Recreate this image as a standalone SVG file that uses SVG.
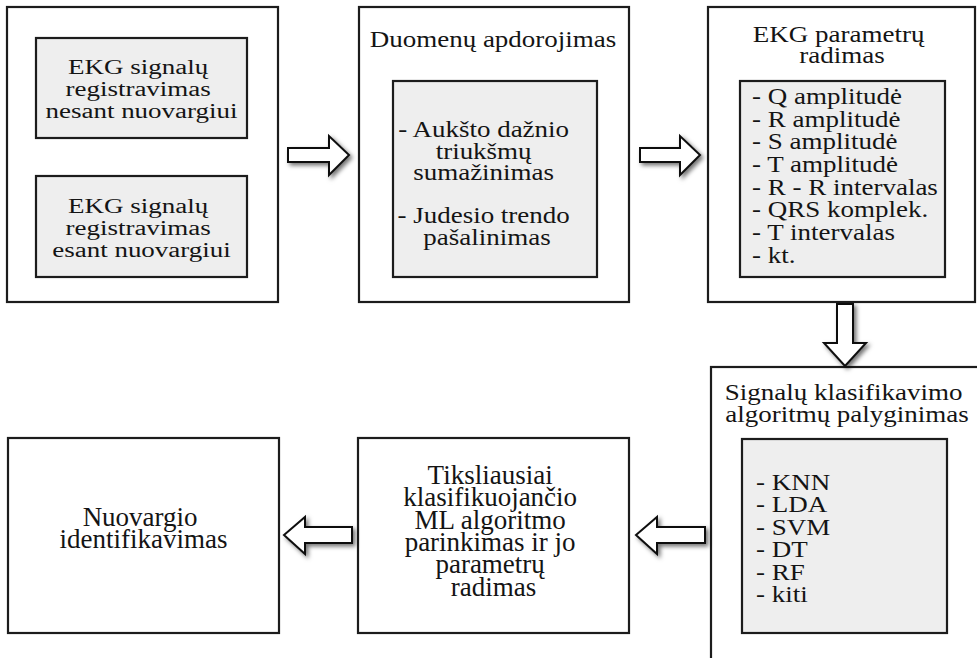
<svg xmlns="http://www.w3.org/2000/svg" width="977" height="658" viewBox="0 0 977 658">
  <defs>
    <filter id="shadow" x="-30%" y="-30%" width="170%" height="170%">
      <feDropShadow dx="2.5" dy="2.5" stdDeviation="2" flood-color="#000" flood-opacity="0.55"/>
    </filter>
    <style>
      .outer { fill: #ffffff; stroke: #1c1c1c; stroke-width: 2.2; }
      .inner { fill: #eeeeee; stroke: #1c1c1c; stroke-width: 2.2; }
      .arrow { fill: #ffffff; stroke: #111111; stroke-width: 2; stroke-linejoin: miter; filter: url(#shadow); }
      text { font-family: "Liberation Serif", "Times New Roman", serif; font-size: 27px; fill: #141414; }
      .c { text-anchor: middle; }
      .l { text-anchor: start; }
    </style>
  </defs>
  <rect width="977" height="658" fill="#ffffff"/>

  <!-- Step 1: ECG recording -->
  <g id="recording">
    <rect class="outer" x="7" y="7" width="271" height="295"/>
    <rect class="inner" x="36" y="38" width="211" height="100"/>
    <text class="c" transform="translate(141.5,74) scale(1,0.8)">
      <tspan x="0" y="0">EKG signalų</tspan>
      <tspan x="0" y="27.5">registravimas</tspan>
      <tspan x="0" y="55">nesant nuovargiui</tspan>
    </text>
    <rect class="inner" x="36" y="176" width="211" height="101"/>
    <text class="c" transform="translate(141.5,213) scale(1,0.8)">
      <tspan x="0" y="0">EKG signalų</tspan>
      <tspan x="0" y="27.5">registravimas</tspan>
      <tspan x="0" y="55">esant nuovargiui</tspan>
    </text>
  </g>

  <!-- Step 2: data processing -->
  <g id="processing">
    <rect class="outer" x="359" y="7" width="270" height="295"/>
    <text class="c" transform="translate(493,47) scale(1,0.84)">Duomenų apdorojimas</text>
    <rect class="inner" x="393" y="81" width="204" height="196"/>
    <text class="c" transform="translate(487,137) scale(1,0.84)">
      <tspan x="0" y="0">- Aukšto dažnio</tspan>
      <tspan x="0" y="26.2">triukšmų</tspan>
      <tspan x="0" y="51.2">sumažinimas</tspan>
      <tspan x="0" y="102.4">- Judesio trendo</tspan>
      <tspan x="0" y="128.6">pašalinimas</tspan>
    </text>
  </g>

  <!-- Step 3: ECG parameter extraction -->
  <g id="parameters">
    <rect class="outer" x="708" y="7" width="267" height="295"/>
    <text class="c" transform="translate(842,42) scale(1,0.84)">
      <tspan x="0" y="0">EKG parametrų</tspan>
      <tspan x="0" y="25">radimas</tspan>
    </text>
    <rect class="inner" x="740" y="81" width="205" height="196"/>
    <text class="l" transform="translate(752,104) scale(1,0.84)">
      <tspan x="0" y="0">- Q amplitudė</tspan>
      <tspan x="0" y="27">- R amplitudė</tspan>
      <tspan x="0" y="54">- S amplitudė</tspan>
      <tspan x="0" y="81">- T amplitudė</tspan>
      <tspan x="0" y="108">- R - R intervalas</tspan>
      <tspan x="0" y="135">- QRS komplek.</tspan>
      <tspan x="0" y="162">- T intervalas</tspan>
      <tspan x="0" y="189">- kt.</tspan>
    </text>
  </g>

  <!-- Step 4: classifier comparison -->
  <g id="classifiers">
    <rect class="outer" x="711" y="367" width="300" height="320"/>
    <text class="c" transform="translate(847,400) scale(1,0.84)">
      <tspan x="0" y="0">Signalų klasifikavimo</tspan>
      <tspan x="0" y="26.2">algoritmų palyginimas</tspan>
    </text>
    <rect class="inner" x="742" y="439" width="205" height="194"/>
    <text class="l" transform="translate(756,490) scale(1,0.84)">
      <tspan x="0" y="0">- KNN</tspan>
      <tspan x="0" y="26.7">- LDA</tspan>
      <tspan x="0" y="53.4">- SVM</tspan>
      <tspan x="0" y="80.1">- DT</tspan>
      <tspan x="0" y="106.8">- RF</tspan>
      <tspan x="0" y="133.5">- kiti</tspan>
    </text>
  </g>

  <!-- Step 5: model selection -->
  <g id="selection">
    <rect class="outer" x="358" y="438" width="271" height="195"/>
    <text class="c">
      <tspan x="493.5" y="484">Tiksliausiai</tspan>
      <tspan x="493.5" y="506.3">klasifikuojančio</tspan>
      <tspan x="493.5" y="528.6">ML algoritmo</tspan>
      <tspan x="493.5" y="550.9">parinkimas ir jo</tspan>
      <tspan x="493.5" y="573.2">parametrų</tspan>
      <tspan x="493.5" y="595.5">radimas</tspan>
    </text>
  </g>

  <!-- Step 6: fatigue identification -->
  <g id="identification">
    <rect class="outer" x="8" y="438" width="271" height="195"/>
    <text class="c">
      <tspan x="143.5" y="526">Nuovargio</tspan>
      <tspan x="143.5" y="548">identifikavimas</tspan>
    </text>
  </g>

  <!-- Block arrows between steps -->
  <g id="connectors">
    <path class="arrow" d="M288,148 H329 V136 L349,155 L329,175 V162 H288 Z"/>
    <path class="arrow" d="M640,148 H680 V136 L700,155 L680,175 V162 H640 Z"/>
    <path class="arrow" d="M837,304 V343 H824 L845,366 L866,343 H853 V304 Z"/>
    <path class="arrow" d="M705,527 H657 V517 L636,535 L657,554 V543 H705 Z"/>
    <path class="arrow" d="M352,527 H305 V517 L284,535 L305,554 V543 H352 Z"/>
  </g>
</svg>
